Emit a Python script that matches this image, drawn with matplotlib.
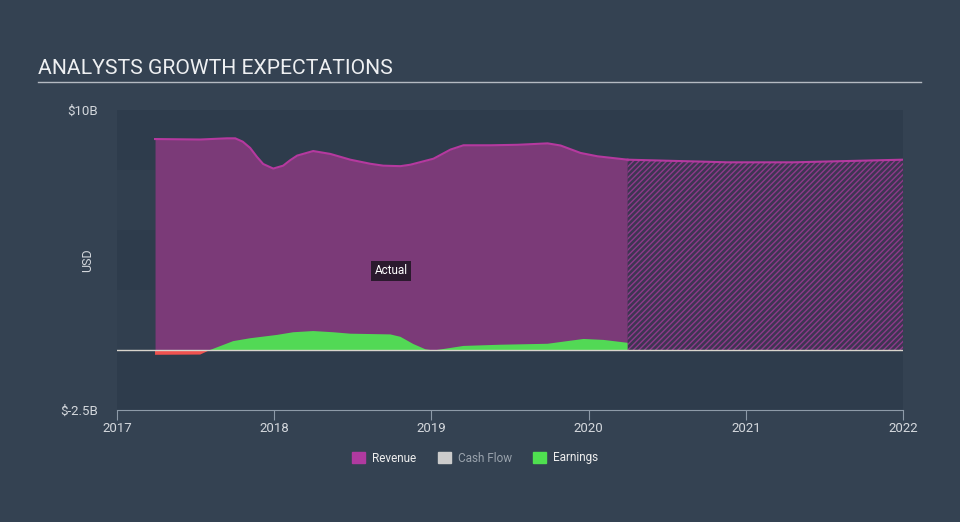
import matplotlib.pyplot as plt
from matplotlib.patches import Patch

plt.rcParams['font.family'] = ['Roboto', 'DejaVu Sans']

# revenue (actual), in $B
rev_years = [2017.242, 2017.529, 2017.700, 2017.752, 2017.800, 2017.847, 2017.890,
             2017.930, 2017.994, 2018.057, 2018.100, 2018.146, 2018.248, 2018.357,
             2018.484, 2018.611, 2018.694, 2018.803, 2018.866, 2019.013, 2019.121,
             2019.204, 2019.376, 2019.548, 2019.739, 2019.822, 2019.949, 2020.057,
             2020.248]
rev_values = [8.79, 8.77, 8.82, 8.82, 8.68, 8.42, 8.05,
              7.75, 7.56, 7.68, 7.90, 8.10, 8.29, 8.17,
              7.93, 7.76, 7.68, 7.66, 7.72, 7.97, 8.35,
              8.53, 8.53, 8.55, 8.61, 8.52, 8.21, 8.07,
              7.93]

# revenue forecast
fc_years = [2020.248, 2020.885, 2021.306, 2022.0]
fc_values = [7.93, 7.82, 7.82, 7.93]

# earnings (actual)
earn_years = [2017.242, 2017.529, 2017.592, 2017.739, 2017.847, 2018.019, 2018.121,
              2018.248, 2018.376, 2018.484, 2018.739, 2018.803, 2018.885, 2018.962,
              2019.013, 2019.076, 2019.204, 2019.439, 2019.739, 2019.841, 2019.968,
              2020.096, 2020.248]
earn_values = [-0.2, -0.19, 0.0, 0.37, 0.49, 0.63, 0.74,
               0.79, 0.74, 0.68, 0.65, 0.55, 0.25, 0.03,
               -0.02, 0.04, 0.17, 0.22, 0.26, 0.35, 0.46,
               0.42, 0.30]

year_ticks = [2017, 2018, 2019, 2020, 2021, 2022]

fig_bg = '#344252'
ax_bg = '#2e3c4c'
band = '#313f4f'
txt = '#d4d8dd'

fig = plt.figure(figsize=(9.6, 5.22), dpi=100, facecolor=fig_bg)
ax = fig.add_axes([117 / 960, 112 / 522, 786 / 960, 300 / 522])
ax.set_facecolor(ax_bg)

# subtle horizontal bands
for lo in [0, 5]:
    ax.axhspan(lo, lo + 2.5, color=band, lw=0, zorder=0)

# revenue
ax.fill_between(rev_years, 0, rev_values, color='#7b3a78', lw=0, zorder=1)
ax.plot(rev_years, rev_values, color='#b5399f', lw=1.5, zorder=2)
ax.fill_between(fc_years, 0, fc_values, facecolor='#3e3552', edgecolor='#8e3a8a',
                hatch='//////', lw=0, zorder=1)
ax.plot(fc_years, fc_values, color='#b5399f', lw=1.5, zorder=2)

# earnings
ax.fill_between(earn_years, 0, earn_values, where=[v >= 0 for v in earn_values],
                interpolate=True, color='#52d955', lw=0, zorder=3)
ax.fill_between(earn_years, 0, earn_values, where=[v <= 0 for v in earn_values],
                interpolate=True, color='#f0524f', lw=0, zorder=3)

ax.axhline(0, color='#d8d4cc', lw=1, zorder=4)

ax.text(2018.745, 3.3, 'Actual', color='white', fontsize=8.5, ha='center', va='center',
        bbox=dict(boxstyle='square,pad=0.3', fc='#2b1a2e', ec='none'), zorder=5)

ax.set_xlim(2017, 2022)
ax.set_ylim(-2.5, 10)
ax.set_xticks(year_ticks)
ax.set_xticklabels([str(y) for y in year_ticks], color=txt, fontsize=9.5)
ax.set_yticks([10, -2.5])
ax.set_yticklabels(['$10B', '$-2.5B'], color=txt, fontsize=9.5)
ax.tick_params(axis='y', length=0, pad=14)
ax.tick_params(axis='x', length=7, color='#8d9aa8', pad=2)
for s in ['top', 'right', 'left']:
    ax.spines[s].set_visible(False)
ax.spines['bottom'].set_color('#8d9aa8')

fig.text(88 / 960, 1 - 260 / 522, 'USD', color=txt, fontsize=9, rotation=90,
         ha='center', va='center')

# title and underline
fig.text(38 / 960, 1 - 69 / 522, 'ANALYSTS GROWTH EXPECTATIONS', color='#eef0f2',
         fontsize=15.2, va='center', ha='left')
fig.add_artist(plt.Line2D([38 / 960, 921 / 960], [1 - 82 / 522, 1 - 82 / 522],
                          color='#b4bac2', lw=1))

handles = [Patch(color='#b03aa0'), Patch(color='#cccccc'), Patch(color='#4fe050')]
leg = fig.legend(handles, ['Revenue', 'Cash Flow', 'Earnings'], loc='center',
                 bbox_to_anchor=(0.495, 1 - 458 / 522), ncol=3, frameon=False,
                 fontsize=8.5, handlelength=1.1, handleheight=1.1, columnspacing=1.8,
                 handletextpad=0.6)
for t, c in zip(leg.get_texts(), ['#eeeeee', '#9aa3ad', '#eeeeee']):
    t.set_color(c)

fig.savefig('out.png', dpi=100, facecolor=fig_bg)
